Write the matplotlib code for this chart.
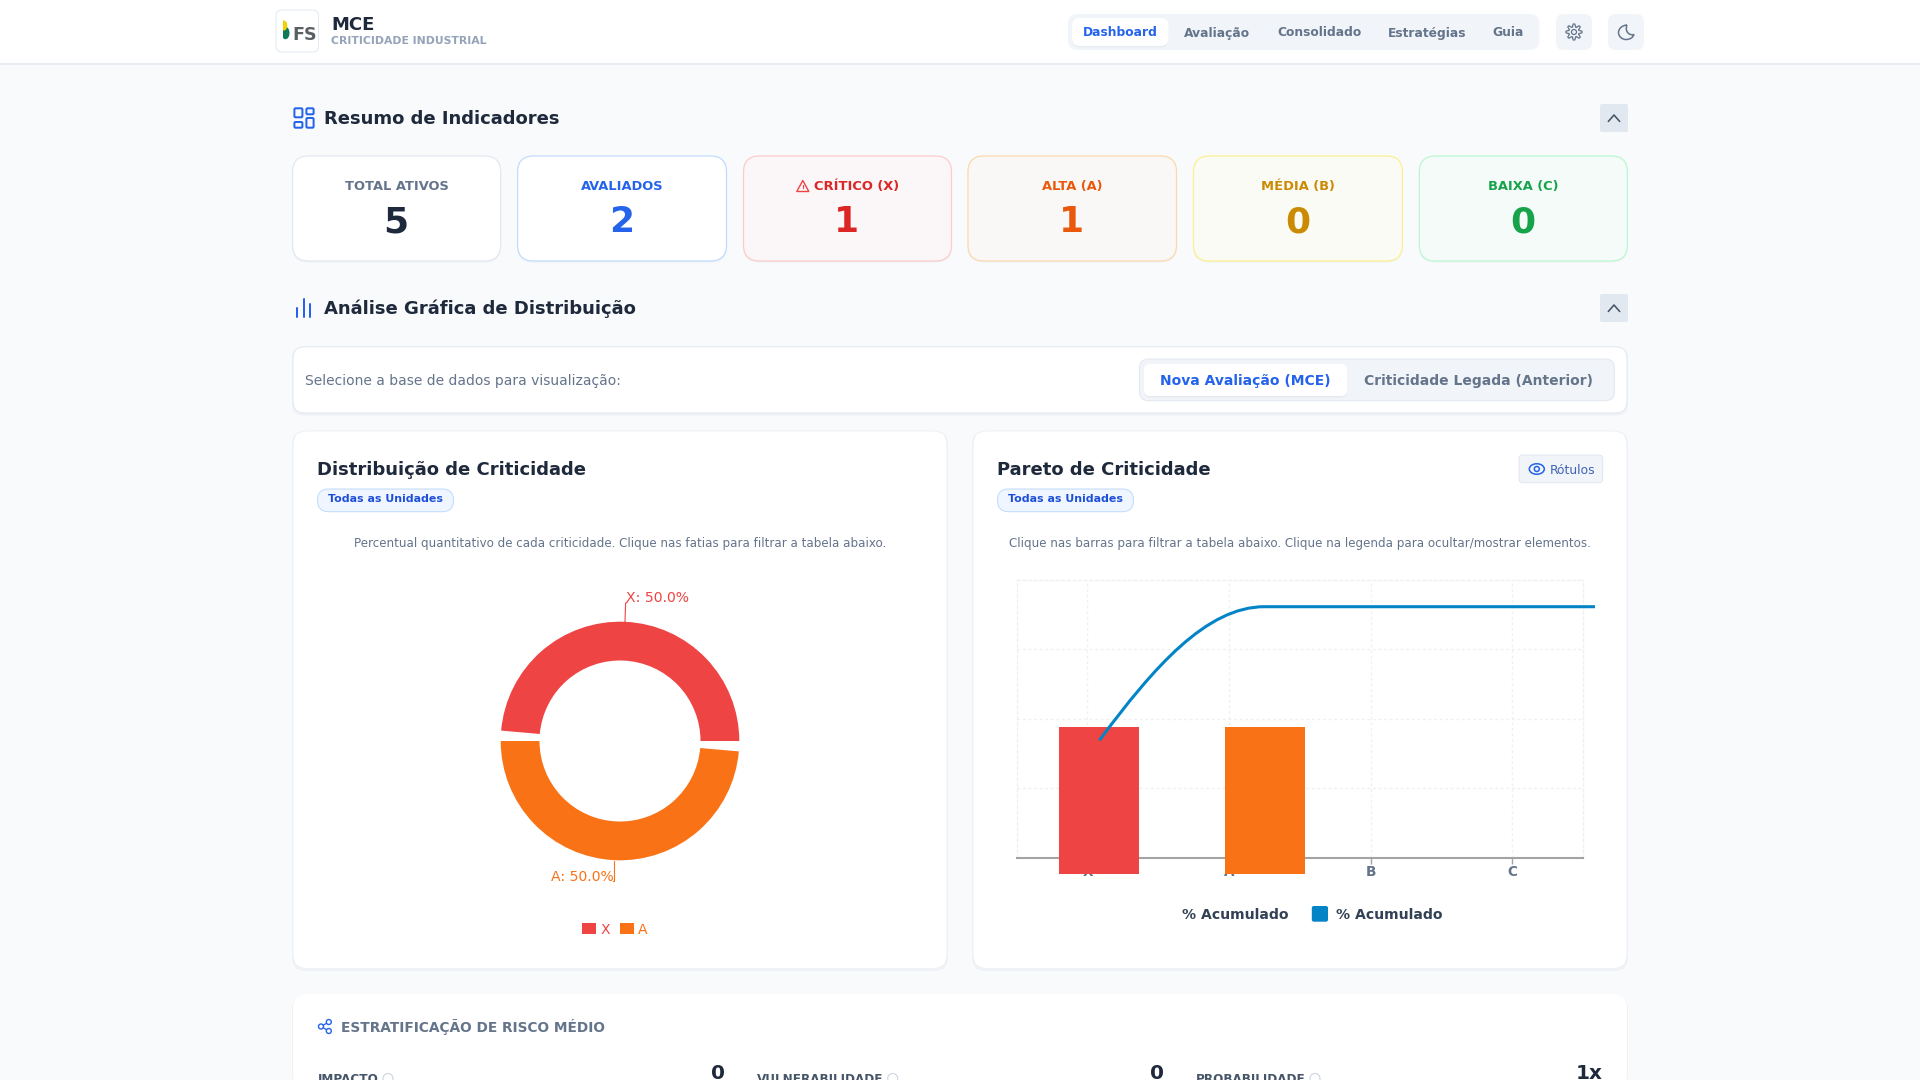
from matplotlib import pyplot as plt
from matplotlib.patches import Circle, Ellipse, FancyBboxPatch, PathPatch, Polygon
from matplotlib.path import Path
import numpy as np

W, H = 1920, 1080

nav_items = ["Dashboard", "Avaliação", "Consolidado", "Estratégias", "Guia"]
nav_centers = [1120, 1217, 1319, 1427, 1508]

card_labels = ["TOTAL ATIVOS", "AVALIADOS", "CRÍTICO (X)", "ALTA (A)", "MÉDIA (B)", "BAIXA (C)"]
card_values = [5, 2, 1, 1, 0, 0]
card_colors = ["#1e293b", "#2563eb", "#dc2626", "#ea580c", "#ca8a04", "#16a34a"]
card_label_colors = ["#64748b", "#2563eb", "#dc2626", "#ea580c", "#ca8a04", "#16a34a"]
card_fills = ["#ffffff", "#ffffff", "#fbf6f7", "#faf8f6", "#fafbf5", "#f4fbf9"]
card_borders = ["#e2e8f0", "#bfdbfe", "#fecaca", "#fed7aa", "#fef08a", "#bbf7d0"]
card_left = [292.6, 517.6, 743.5, 968, 1193.5, 1419.4]
card_right = [500.6, 726.5, 951.5, 1176.5, 1402.4, 1627.4]

donut_labels = ["X", "A"]
donut_pct = [50.0, 50.0]
donut_colors = ["#ef4444", "#f97316"]
pad_pct = 5 / 3.6

pareto_cats = ["X", "A", "B", "C"]
pareto_counts = [1, 1, 0, 0]
pareto_acum = [50, 100, 100, 100]
pareto_colors = ["#ef4444", "#f97316", "#ca8a04", "#16a34a"]

risk_labels = ["IMPACTO", "VULNERABILIDADE", "PROBABILIDADE"]
risk_values = ["0", "0", "1x"]
risk_x = [317.7, 756.5, 1196]
risk_icon_x = [388, 892.7, 1315]
risk_value_right = [725, 1164, 1602.4]

plt.rcParams["font.family"] = "DejaVu Sans"
fig = plt.figure(figsize=(W / 100, H / 100), dpi=100, facecolor="#f8fafc")
canvas = fig.add_axes([0, 0, 1, 1], zorder=0)
canvas.set_xlim(0, W)
canvas.set_ylim(H, 0)
canvas.axis("off")


def rect_px(x0, y0, x1, y1):
    return [x0 / W, 1 - y1 / H, (x1 - x0) / W, (y1 - y0) / H]


def box(x0, y0, x1, y1, r, fc, ec="none", lw=1.0, z=1):
    canvas.add_patch(FancyBboxPatch((x0, y0), x1 - x0, y1 - y0, boxstyle=f"round,pad=0,rounding_size={r}",
                                    fc=fc, ec=ec, lw=lw * 0.72, zorder=z))


def card(x0, y0, x1, y1, r, fc="#ffffff", ec="#eef2f6"):
    box(x0 - 1, y0, x1 + 1, y1 + 2.5, r, "#eef1f5", z=1)
    box(x0, y0, x1, y1, r, fc, ec, 1, z=2)


def txt(x, y, s, px, color, weight="normal", ha="left", z=5):
    canvas.text(x, y - 1, s, fontsize=px * 0.72, color=color, fontweight=weight, ha=ha, va="center_baseline", zorder=z)


def stroke(xs, ys, color, lw=2.0, z=5):
    canvas.plot(xs, ys, color=color, lw=lw * 0.72, solid_capstyle="round", solid_joinstyle="round", zorder=z)


def chevron(cx, cy):
    box(cx - 14, cy - 14, cx + 14, cy + 14, 2, "#e2e8f0", z=2)
    stroke([cx - 5.7, cx, cx + 5.7], [cy + 3.5, cy - 3, cy + 3.5], "#475569", 1.6)


def badge(x0, x1):
    box(x0, 489, x1, 511.7, 11, "#eff6ff", "#bfdbfe", 1, z=3)
    txt((x0 + x1) / 2, 499.5, "Todas as Unidades", 11, "#1d4ed8", "bold", "center")


def gear(cx, cy):
    ang = np.linspace(0, 2 * np.pi, 65)
    rad = 6.6 + 1.4 * np.clip(2.4 * np.cos(8 * ang), -1, 1)
    canvas.add_patch(Polygon(np.c_[cx + rad * np.cos(ang), cy + rad * np.sin(ang)], fc="none", ec="#64748b",
                             lw=0.9, zorder=5))
    canvas.add_patch(Circle((cx, cy), 2.5, fc="none", ec="#64748b", lw=0.9, zorder=5))


# header
canvas.add_patch(plt.Rectangle((0, 0), W, 63, fc="#ffffff", ec="none", zorder=1))
stroke([0, W], [63.5, 63.5], "#e2e8f0", 1.5, z=1)
box(276, 10, 318.5, 52, 6, "#ffffff", "#e2e8f0", 1, z=2)
canvas.add_patch(Ellipse((285.5, 33), 8, 12.5, fc="#0f7a5a", ec="none", zorder=3))
canvas.add_patch(Ellipse((284, 25.5), 6.5, 10, fc="#f5d000", ec="none", zorder=3))
canvas.add_patch(plt.Rectangle((278, 20), 5, 20, fc="#ffffff", ec="none", zorder=3))
txt(292, 33.5, "FS", 17.5, "#5a5f64", "bold")
txt(331, 24, "MCE", 18, "#1e293b", "bold")
txt(331, 41, "CRITICIDADE INDUSTRIAL", 10.9, "#94a3b8", "bold")

box(1068, 14, 1539.5, 50, 10, "#f1f5f9", z=2)
box(1072, 19, 1168.5, 47.5, 8, "#e8ecf1", z=2)
box(1072, 18, 1168.5, 46, 8, "#ffffff", z=3)
for i in range(len(nav_items)):
    txt(nav_centers[i], 32.5, nav_items[i], 12.2, "#2563eb" if i == 0 else "#64748b", "bold", "center")
box(1556, 14, 1592, 50, 8, "#f1f5f9", z=2)
box(1608, 14, 1644, 50, 8, "#f1f5f9", z=2)
gear(1574, 32)
moon = Path([(1627, 25), (1621.5, 25.5), (1618.5, 29), (1618.5, 32.5), (1618.5, 36.5), (1622, 39.5), (1626, 39.5),
             (1630, 39.5), (1633, 37.5), (1634, 34.5), (1629, 36), (1624.5, 31), (1627, 25)],
            [Path.MOVETO] + [Path.CURVE4] * 12)
canvas.add_patch(PathPatch(moon, fc="none", ec="#64748b", lw=1.1, zorder=5))

# resumo de indicadores
for x0, y0, x1, y1 in [(294.4, 108.3, 302.4, 117.3), (294.4, 122, 302.4, 127.7),
                       (306.4, 108.3, 313.6, 114.3), (306.4, 118, 313.6, 127.7)]:
    box(x0, y0, x1, y1, 1.2, "none", "#2563eb", 2, z=5)
txt(324.5, 118, "Resumo de Indicadores", 18, "#1e293b", "bold")
chevron(1614, 118)

for i in range(len(card_labels)):
    box(card_left[i] - 0.5, 157, card_right[i] + 0.5, 262.5, 16, "#f0f3f6", z=1)
    box(card_left[i], 156, card_right[i], 261, 16, card_fills[i], card_borders[i], 1.2, z=2)
    cx = (card_left[i] + card_right[i]) / 2
    txt(cx + (9 if i == 2 else 0), 186, card_labels[i], 13, card_label_colors[i], "bold", "center")
    txt(cx - 0.5, 220, str(card_values[i]), 36, card_colors[i], "bold", "center")
canvas.add_patch(Polygon([(802.8, 180.5), (796.8, 191.5), (808.8, 191.5)], closed=True, fc="none", ec="#ef4444",
                         lw=1.0, joinstyle="round", zorder=5))
stroke([802.8, 802.8], [184.5, 187.5], "#ef4444", 1.2)

# analise grafica
stroke([297.3, 297.3], [308, 316.5], "#2563eb")
stroke([303.9, 303.9], [299, 316.5], "#2563eb")
stroke([310.4, 310.4], [304, 316.5], "#2563eb")
txt(324, 308, "Análise Gráfica de Distribuição", 18, "#1e293b", "bold")
chevron(1614, 308)

card(293, 346.7, 1627, 413, 12, ec="#e2e8f0")
txt(305, 380.5, "Selecione a base de dados para visualização:", 13.9, "#64748b")
box(1139.5, 359, 1614.4, 400.7, 9, "#f1f5f9", "#e2e8f0", 1, z=3)
box(1144, 365, 1347, 397.5, 6, "#e6eaef", z=3)
box(1144, 364, 1347, 396, 6, "#ffffff", z=4)
txt(1245.5, 380.5, "Nova Avaliação (MCE)", 13.9, "#2563eb", "bold", "center")
txt(1478, 380.5, "Criticidade Legada (Anterior)", 13.9, "#64748b", "bold", "center")

# cartoes dos graficos
card(293, 431, 947, 968.5, 14)
card(973, 431, 1627, 968.5, 14)
txt(317.2, 469, "Distribuição de Criticidade", 18, "#1e293b", "bold")
badge(317.5, 453.5)
txt(620, 543.5, "Percentual quantitativo de cada criticidade. Clique nas fatias para filtrar a tabela abaixo.", 11.9,
    "#64748b", ha="center")
txt(997.2, 469, "Pareto de Criticidade", 18, "#1e293b", "bold")
badge(997.5, 1133.5)
box(1519, 455, 1602.7, 482.7, 4, "#f1f5f9", "#e2e8f0", 1, z=3)
canvas.add_patch(Ellipse((1536.8, 469), 15, 10.5, fc="none", ec="#2563eb", lw=1.1, zorder=5))
canvas.add_patch(Circle((1536.8, 469), 2.5, fc="none", ec="#2563eb", lw=1.1, zorder=5))
txt(1549.5, 469.5, "Rótulos", 12.4, "#3f62b5")
txt(1299.8, 543.5, "Clique nas barras para filtrar a tabela abaixo. Clique na legenda para ocultar/mostrar elementos.", 11.9,
    "#64748b", ha="center")

# rosca
ax_pie = fig.add_axes(rect_px(620 - 119.3, 741 - 119.3, 620 + 119.3, 741 + 119.3), zorder=1)
sizes = []
colors = []
for i in range(len(donut_pct)):
    sizes += [donut_pct[i] - pad_pct, pad_pct]
    colors += [donut_colors[i], "none"]
ax_pie.pie(sizes, colors=colors, startangle=0, radius=1, wedgeprops=dict(width=38.8 / 119.3, linewidth=0))
ax_pie.set_xlim(-1, 1)
ax_pie.set_ylim(-1, 1)
ax_pie.patch.set_visible(False)

canvas.plot([625, 625.6, 627], [621.7, 603, 602.5], color=donut_colors[0], lw=0.8, zorder=5)
txt(626, 597.5, f"{donut_labels[0]}: {donut_pct[0]:.1f}%", 14, donut_colors[0])
canvas.plot([614.3, 614.3, 612.5], [860.7, 881, 881], color=donut_colors[1], lw=0.8, zorder=5)
txt(551, 876.5, f"{donut_labels[1]}: {donut_pct[1]:.1f}%", 14, donut_colors[1])
for i, (sx, tx) in enumerate([(582, 600.7), (620, 638)]):
    canvas.add_patch(plt.Rectangle((sx, 923.3), 14, 10.7, fc=donut_colors[i], ec="none", zorder=5))
    txt(tx, 929, donut_labels[i], 14, donut_colors[i])

# pareto: grade e eixo
x = np.arange(len(pareto_cats))
ax = fig.add_axes(rect_px(1016.7, 580, 1583, 857.7), zorder=1)
ax.patch.set_visible(False)
ax.set_xlim(-0.5, 3.5)
ax.set_ylim(0, 100)
ax.set_xticks(x, pareto_cats)
ax.set_yticks([25, 50, 75])
ax.grid(True, color="#eef0f3", lw=1.0, linestyle=(0, (2, 2)))
ax.set_axisbelow(True)
ax.tick_params(axis="y", length=0, labelleft=False)
ax.tick_params(axis="x", length=4, width=1, color="#a3a3a3", labelcolor="#64748b", labelsize=13 * 0.72 * 1.05, pad=1)
for label in ax.get_xticklabels():
    label.set_fontweight("bold")
for side in ["left", "right", "top"]:
    ax.spines[side].set_color("#eef0f3")
    ax.spines[side].set_linewidth(1.0)
    ax.spines[side].set_linestyle((0, (2, 2)))
ax.spines["bottom"].set_color("#a3a3a3")
ax.spines["bottom"].set_linewidth(1.5)

# pareto: barras e curva ficam deslocadas da grade, como na tela original
ax_bar = fig.add_axes(rect_px(1016.8, 606.7, 1677.6, 874), zorder=2)
ax_bar.patch.set_visible(False)
ax_bar.axis("off")
ax_bar.set_xlim(-0.5, 3.5)
ax_bar.set_ylim(0, 1.82)
ax_bar.bar(x, pareto_counts, width=0.484, color=pareto_colors, linewidth=0)

ax_line = fig.add_axes(rect_px(1016.8, 606.7, 1677.6, 874), zorder=3)
ax_line.patch.set_visible(False)
ax_line.axis("off")
ax_line.set_xlim(-0.5, 3.5)
ax_line.set_ylim(0, 100)
verts = [(x[0], pareto_acum[0])]
codes = [Path.MOVETO]
for i in range(1, len(x)):
    y0, y1 = pareto_acum[i - 1], pareto_acum[i]
    if y0 == y1:
        verts.append((x[i], y1))
        codes.append(Path.LINETO)
    else:
        verts += [(x[i - 1] + 0.33, y0 + 0.55 * (y1 - y0)), (x[i] - 0.35, y1), (x[i], y1)]
        codes += [Path.CURVE4] * 3
ax_line.add_patch(PathPatch(Path(verts, codes), fc="none", ec="#0284c7", lw=2.2, clip_on=False, capstyle="butt"))

txt(1181.6, 914.5, "% Acumulado", 14, "#334155", "bold")
box(1311.8, 906, 1328, 921.7, 2, "#0284c7", z=5)
txt(1336, 914.5, "% Acumulado", 14, "#334155", "bold")

# estratificacao
box(292, 995, 1628, 1090, 14, "#f0f3f6", z=1)
box(293, 994, 1627, 1090, 14, "#ffffff", z=2)
for cx, cy in [(328.8, 1022), (321, 1026.5), (328.8, 1031)]:
    canvas.add_patch(Circle((cx, cy), 2.5, fc="none", ec="#2563eb", lw=1.0, zorder=5))
stroke([323.2, 326.6], [1025.2, 1023.3], "#2563eb", 1.3)
stroke([323.2, 326.6], [1027.8, 1029.7], "#2563eb", 1.3)
txt(341.3, 1026.5, "ESTRATIFICAÇÃO DE RISCO MÉDIO", 13.7, "#64748b", "bold")
for i in range(len(risk_labels)):
    txt(risk_x[i], 1079, risk_labels[i], 12, "#475569", "bold")
    canvas.add_patch(Circle((risk_icon_x[i], 1078.5), 5, fc="none", ec="#cbd5e1", lw=0.8, zorder=5))
    txt(risk_value_right[i], 1072.5, risk_values[i], 20, "#1e293b", "bold", "right")

fig.savefig("out.png", dpi=100, facecolor=fig.get_facecolor())
